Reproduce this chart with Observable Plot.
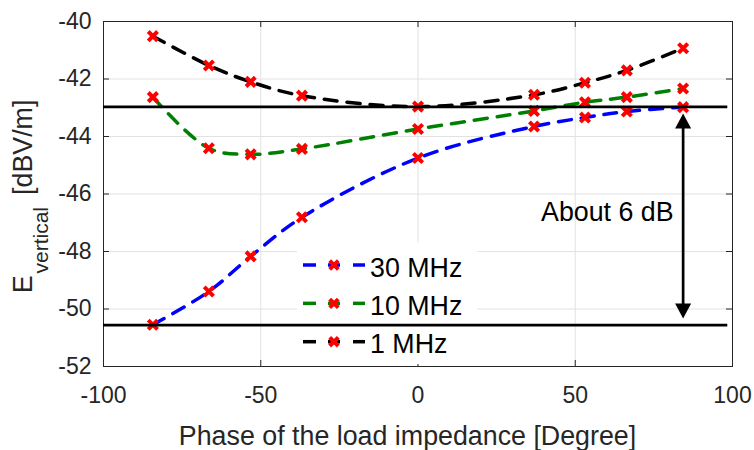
<!DOCTYPE html>
<html><head><meta charset="utf-8">
<script src="https://cdn.jsdelivr.net/npm/d3@7"></script>
<script src="https://cdn.jsdelivr.net/npm/@observablehq/plot@0.6"></script>
<style>
body{margin:0;background:#fff;}
#chart svg{display:block;}
</style>
</head><body><div id="chart"></div>
<script>
// ---- data ----
const phase = [-84.3, -66.5, -53.2, -36.9, 0, 36.9, 53.1, 66.4, 84.3];
const series = ["30 MHz", "10 MHz", "1 MHz"];
const e30MHz = [-50.55, -49.39, -48.17, -46.81, -44.75, -43.65, -43.34, -43.13, -42.98];
const e10MHz = [-42.63, -44.41, -44.62, -44.43, -43.74, -43.11, -42.81, -42.63, -42.33];
const e1MHz  = [-40.51, -41.53, -42.10, -42.58, -42.96, -42.55, -42.13, -41.70, -40.93];
const seriesColors = ["#0000ff", "#008000", "#000000"];
const xTicks = [-100, -50, 0, 50, 100];
const yTicks = [-52, -50, -48, -46, -44, -42, -40];
const refLevels = [-42.97, -50.56];
const refSpan = [-100, 98.5];
const arrowPhase = 84.3;
const annotationText = ["About 6 dB"];
const annotationY = [-46.65];
const xLabel = "Phase of the load impedance [Degree]";
const yLabelMain = "E", yLabelSub = "vertical", yLabelUnit = "[dBV/m]";

// ---- build table ----
const values = [e30MHz, e10MHz, e1MHz];
const data = [];
values.forEach((arr, i) => arr.forEach((v, j) => data.push({series: series[i], phase: phase[j], e: v})));

const W = 754, H = 450, mL = 103, mR = 22, mT = 21, mB = 84;
const iw = W - mL - mR, ih = H - mT - mB;
const font = "'Liberation Sans', Arial, Helvetica, sans-serif";
const axisGray = "#262626";
const gridGray = "#e2e2e2";
const bigFont = 26.8;

const headUp = {draw(ctx) { ctx.moveTo(0, 0); ctx.lineTo(8, 15); ctx.lineTo(-8, 15); ctx.closePath(); }};
const headDown = {draw(ctx) { ctx.moveTo(0, 0); ctx.lineTo(8, -15); ctx.lineTo(-8, -15); ctx.closePath(); }};
const fmt = d => String(d);

const plot = Plot.plot({
  width: W, height: H,
  marginLeft: mL, marginRight: mR, marginTop: mT, marginBottom: mB,
  style: {fontFamily: font, background: "#fff", overflow: "visible"},
  x: {domain: [-100, 100]},
  y: {domain: [-52, -40]},
  color: {domain: series, range: seriesColors},
  marks: [
    Plot.ruleX(xTicks, {stroke: gridGray, strokeWidth: 1}),
    Plot.ruleY(yTicks, {stroke: gridGray, strokeWidth: 1}),
    // inward tick marks on all four sides
    Plot.ruleX(xTicks, {insetTop: ih - 6, stroke: axisGray}),
    Plot.ruleX(xTicks, {insetBottom: ih - 6, stroke: axisGray}),
    Plot.ruleY(yTicks, {insetRight: iw - 6, stroke: axisGray}),
    Plot.ruleY(yTicks, {insetLeft: iw - 6, stroke: axisGray}),
    Plot.frame({stroke: axisGray, strokeWidth: 1}),
    Plot.line(data, {x: "phase", y: "e", z: "series", stroke: "series", strokeWidth: 3.5,
      strokeDasharray: "13,10", curve: "catmull-rom"}),
    Plot.dot(data, {x: "phase", y: "e", symbol: "times", r: 4.3, stroke: "#ff0000", strokeWidth: 4}),
    Plot.ruleY(refLevels, {x1: refSpan[0], x2: refSpan[1], stroke: "#000", strokeWidth: 2.7}),
    Plot.ruleX([arrowPhase], {y1: refLevels[0], y2: refLevels[1], insetTop: 12, insetBottom: 12, stroke: "#000", strokeWidth: 2.7}),
    Plot.dot([arrowPhase], {x: d => d, y: () => refLevels[0], dy: 6.5, symbol: headUp, fill: "#000", stroke: "none"}),
    Plot.dot([arrowPhase], {x: d => d, y: () => refLevels[1], dy: -6.5, symbol: headDown, fill: "#000", stroke: "none"}),
    Plot.text(annotationText, {x: () => arrowPhase, y: (d, i) => annotationY[i], text: d => d,
      textAnchor: "end", dx: -9.5, fontSize: bigFont, fill: "#000"}),
    Plot.axisX(xTicks, {tickSize: 0, tickPadding: 20, fontSize: 23, fill: axisGray, label: null, tickFormat: fmt}),
    Plot.axisY(yTicks, {tickSize: 0, tickPadding: 12, fontSize: 23, fill: axisGray, label: null, tickFormat: fmt})
  ]
});

document.getElementById("chart").appendChild(plot);
const svg = d3.select(plot);

// ---- legend (drawn below the frame and reference lines) ----
const leg = svg.insert("g", '[aria-label="frame"]').attr("text-anchor", "start");
leg.append("rect").attr("x", 297).attr("y", 243).attr("width", 180).attr("height", 121).attr("fill", "#fff");
series.forEach((s, i) => {
  const y = 265 + i * 38.35;
  [[303, 316], [328, 340], [353, 365]].forEach(([a, b]) => {
    leg.append("line").attr("x1", a).attr("x2", b).attr("y1", y).attr("y2", y)
      .attr("stroke", seriesColors[i]).attr("stroke-width", 3.5);
  });
  leg.append("path").attr("d", `M${334-4.3},${y-4.3}L${334+4.3},${y+4.3}M${334-4.3},${y+4.3}L${334+4.3},${y-4.3}`)
    .attr("stroke", "#ff0000").attr("stroke-width", 4).attr("fill", "none");
  leg.append("text").attr("x", 370).attr("y", y + 11.7).attr("font-size", bigFont).attr("fill", "#000")
    .attr("text-anchor", "start").attr("font-family", font).text(s);
});

// ---- axis titles ----
svg.append("text").attr("x", 407.5).attr("y", 445).attr("text-anchor", "middle")
  .attr("font-size", bigFont).attr("fill", axisGray).attr("font-family", font).text(xLabel);
const yl = svg.append("text").attr("transform", "translate(31.7,196.5) rotate(-90)")
  .attr("text-anchor", "middle").attr("fill", axisGray).attr("font-family", font);
yl.append("tspan").attr("font-size", bigFont).text(yLabelMain);
yl.append("tspan").attr("font-size", 21).attr("dx", 2).attr("dy", 16).text(yLabelSub);
yl.append("tspan").attr("font-size", bigFont).attr("dx", 12).attr("dy", -16).text(yLabelUnit);
</script>
</body></html>
